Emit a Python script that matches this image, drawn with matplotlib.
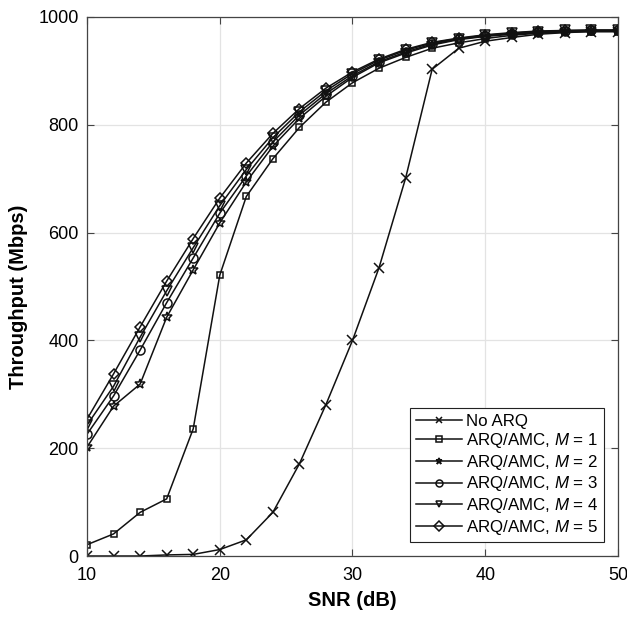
import matplotlib
matplotlib.use('Agg')
import matplotlib.pyplot as plt

# SNR points (dB)
snr = [10, 12, 14, 16, 18, 20, 22, 24, 26, 28, 30,
       32, 34, 36, 38, 40, 42, 44, 46, 48, 50]

# throughput (Mbps)
no_arq = [0, 0, 0, 2, 3, 12, 30, 81, 171, 281, 400,
          535, 701, 903, 942, 955, 962, 968, 971, 973, 973]
arq_m1 = [21, 41, 81, 106, 236, 521, 667, 737, 795, 842, 878,
          905, 925, 942, 952, 960, 966, 970, 972, 973, 973]
arq_m2 = [202, 278, 319, 443, 531, 618, 694, 760, 812, 853, 888,
          915, 933, 948, 958, 964, 968, 971, 973, 974, 974]
arq_m3 = [226, 297, 382, 470, 553, 636, 705, 768, 818, 858, 891,
          917, 935, 950, 959, 965, 969, 972, 974, 975, 975]
arq_m4 = [243, 315, 406, 492, 572, 650, 717, 776, 824, 863, 895,
          920, 938, 952, 960, 966, 970, 973, 975, 975, 975]
arq_m5 = [254, 338, 425, 510, 589, 664, 729, 784, 830, 868, 898,
          922, 940, 953, 961, 967, 971, 974, 975, 976, 976]

series = [no_arq, arq_m1, arq_m2, arq_m3, arq_m4, arq_m5]
markers = ['x', 's', '*', 'o', 'v', 'D']
sizes = [7, 5, 7.5, 6.5, 6.5, 5.5]
labels = ['No ARQ'] + [r'ARQ/AMC, $M$ = %d' % m for m in range(1, 6)]

plt.rcParams['font.family'] = ['Liberation Sans', 'DejaVu Sans']
plt.rcParams['mathtext.fontset'] = 'custom'
plt.rcParams['mathtext.it'] = 'Liberation Sans:italic'
plt.rcParams['mathtext.rm'] = 'Liberation Sans'

fig = plt.figure(figsize=(6.27, 6.18), dpi=100)
ax = fig.add_axes([0.1388, 0.1003, 0.8468, 0.8722])

for data, mk, ms, lab in zip(series, markers, sizes, labels):
    ax.plot(snr, data, color='#111111', linewidth=1.1, marker=mk,
            markersize=ms, markerfacecolor='none', markeredgecolor='#111111',
            markeredgewidth=1.1, label=lab)

ax.set_xlim(10, 50)
ax.set_ylim(0, 1000)
ax.set_xticks([10, 20, 30, 40, 50])
ax.set_yticks([0, 200, 400, 600, 800, 1000])
ax.grid(True, color='#e3e3e3', linewidth=0.9)
ax.set_axisbelow(True)
ax.tick_params(direction='in', top=True, right=True, labelsize=13,
               length=5, color='#444444')
ax.tick_params(axis='x', pad=8)
ax.tick_params(axis='y', pad=6)
for sp in ax.spines.values():
    sp.set_color('#444444')
    sp.set_linewidth(0.9)

ax.set_xlabel('SNR (dB)', fontsize=14.5, fontweight='bold')
ax.set_ylabel('Throughput (Mbps)', fontsize=14.5, fontweight='bold')
ax.xaxis.set_label_coords(0.5, -0.064)
ax.yaxis.set_label_coords(-0.111, 0.48)

leg = ax.legend(loc='lower right', fontsize=12.2, fancybox=False,
                edgecolor='#222222', framealpha=1, borderpad=0.35,
                labelspacing=0.15, handlelength=2.7, handletextpad=0.25,
                borderaxespad=0.8)
leg.get_frame().set_linewidth(0.8)
# smaller markers in the legend, like the original
for h in leg.legend_handles:
    h.set_markersize(5)

fig.savefig('out.png', dpi=100)
